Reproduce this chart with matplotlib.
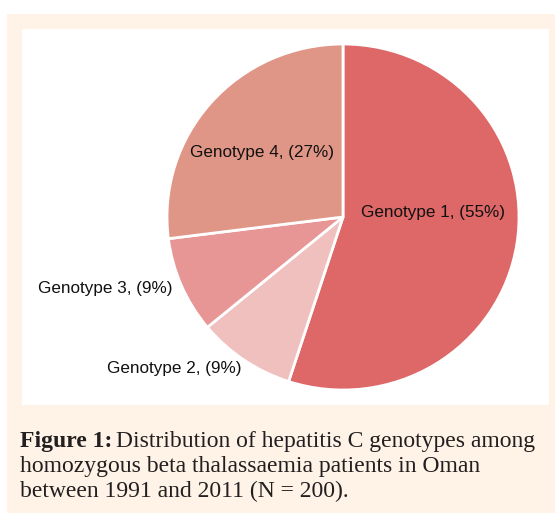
import matplotlib
matplotlib.use("Agg")
import matplotlib.pyplot as plt
from matplotlib.patches import Rectangle

categories = ["Genotype 1", "Genotype 2", "Genotype 3", "Genotype 4"]
values = [55, 9, 9, 27]
colors = ["#de6767", "#f0c0bf", "#e89595", "#e09686"]

W, H = 555, 513
fig = plt.figure(figsize=(W / 100, H / 100), dpi=100, facecolor="white")

def px(x, y):
    return x / W, 1 - y / H

# cream outer box and white panel
fig.patches.append(Rectangle(px(7, 513), (W - 7) / W, (513 - 14) / H,
                             transform=fig.transFigure, facecolor="#fef3e6",
                             edgecolor="none", zorder=-10))
fig.patches.append(Rectangle(px(22, 405), (549 - 22) / W, (405 - 29) / H,
                             transform=fig.transFigure, facecolor="white",
                             edgecolor="none", zorder=-9))

lab_font = "Liberation Sans"

cx, cy, rx, ry = 343, 217, 176, 173
ax = fig.add_axes([(cx - rx) / W, (H - cy - ry) / H, 2 * rx / W, 2 * ry / H])
ax.pie(values, colors=colors, startangle=90, counterclock=False,
       wedgeprops=dict(edgecolor="white", linewidth=2))
ax.set_xlim(-1, 1)
ax.set_ylim(-1, 1)
ax.set_aspect("auto")
ax.axis("off")

label_pos = [(433, 213), (174, 368), (105, 289), (262, 153)]
for cat, v, (x, y) in zip(categories, values, label_pos):
    fig.text(*px(x, y), f"{cat}, ({v}%)", ha="center", va="center",
             fontsize=12.3, family=lab_font, color="#111111")

cap_kw = dict(fontsize=17, family="Liberation Serif", color="#231f20")
t1 = fig.text(*px(20, 447), "Figure 1:", ha="left", va="baseline",
              weight="bold", **cap_kw)
fig.canvas.draw()
bb = t1.get_window_extent()
fig.text(bb.x1 / W + 4 / W, 1 - 447 / H,
         "Distribution of hepatitis C genotypes among",
         ha="left", va="baseline", **cap_kw)
fig.text(*px(20, 472), "homozygous beta thalassaemia patients in Oman",
         ha="left", va="baseline", **cap_kw)
fig.text(*px(20, 497), "between 1991 and 2011 (N = 200).",
         ha="left", va="baseline", **cap_kw)

fig.savefig("out.png", dpi=100, facecolor=fig.get_facecolor())
